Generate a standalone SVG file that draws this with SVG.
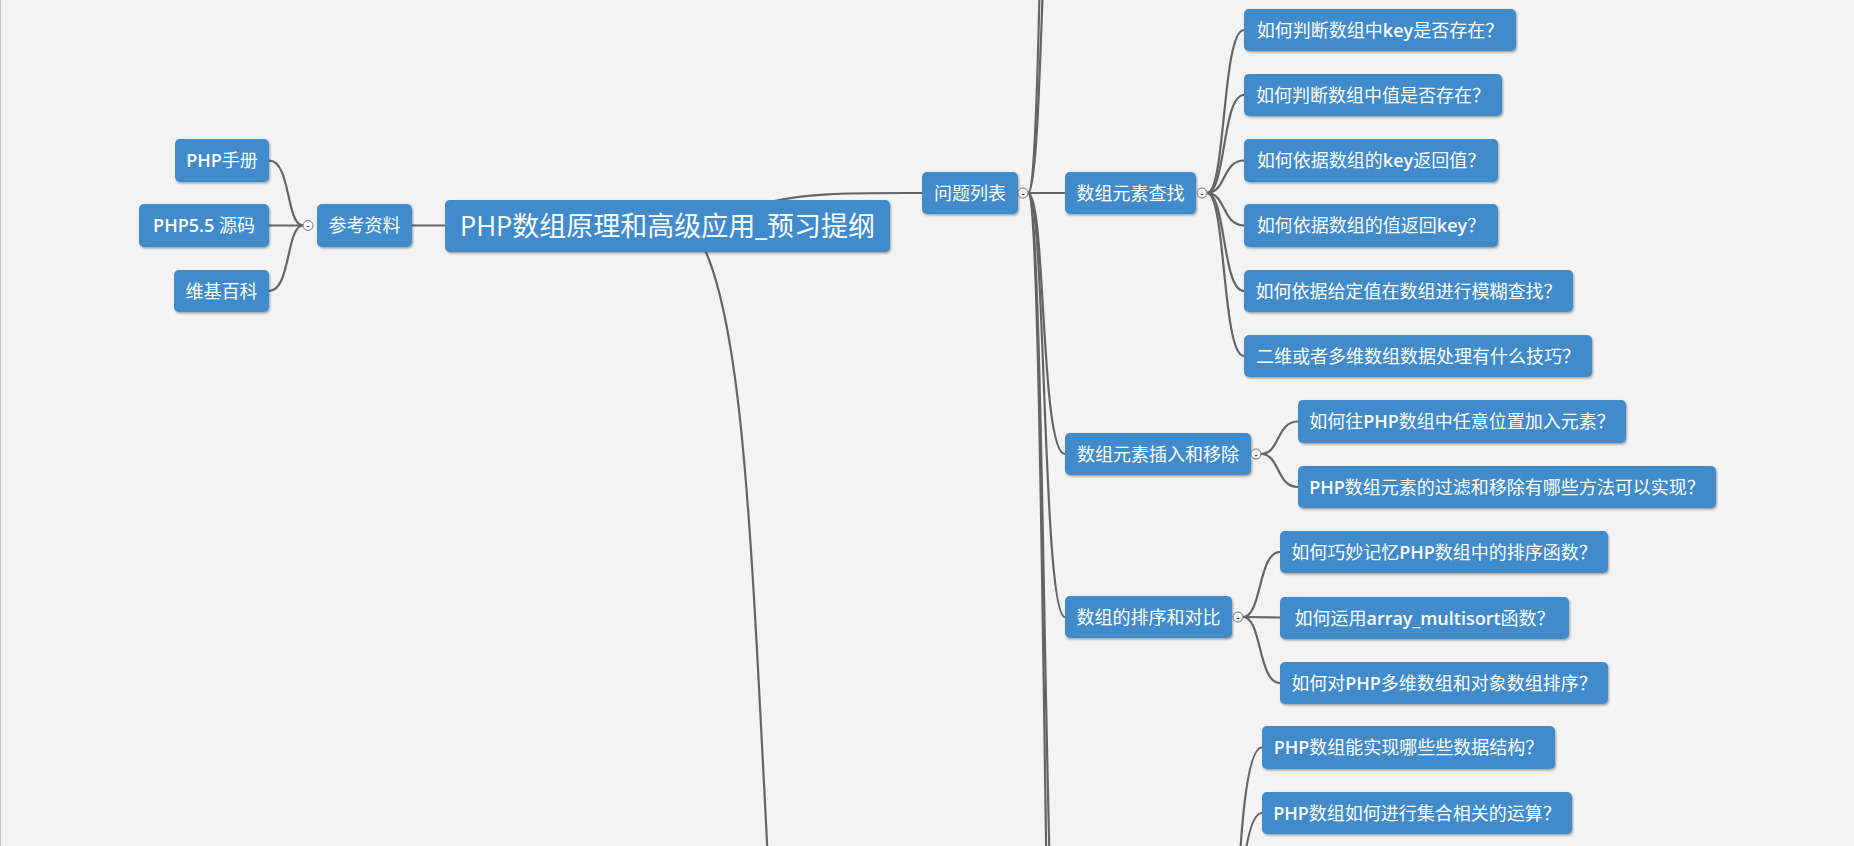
<svg xmlns="http://www.w3.org/2000/svg" width="1854" height="846" viewBox="0 0 1854 846">
<defs>
<filter id="sh" x="-5%" y="-20%" width="110%" height="150%">
<feDropShadow dx="1" dy="1.5" stdDeviation="0.8" flood-color="#000" flood-opacity="0.35"/>
</filter>
<style>
.box{fill:#428bca;filter:url(#sh)}
.t{fill:#fff;font-family:"Open Sans","Noto Sans CJK SC",sans-serif;font-size:18px;text-anchor:middle}
.rt{fill:#fff;font-family:"Open Sans","Noto Sans CJK SC",sans-serif;font-size:27px;text-anchor:middle}
.l{font-weight:600}
.c{fill:none;stroke:#646464;stroke-width:2.2}
.ex{fill:#f8f8f8;stroke:#777;stroke-width:1}
.mn{fill:#333;font-family:"DejaVu Sans",sans-serif;font-size:10px;text-anchor:middle}
</style>
</defs>
<rect width="1854" height="846" fill="#f3f3f3"/>
<line x1="0.5" y1="0" x2="0.5" y2="846" stroke="#c8c8c8" stroke-width="1"/>

<g id="connectors">
<path class="c" d="M412 225.5 L445 225.5"/>
<path class="c" d="M303 225.5 C286 225.5 291 160.5 269 160.5"/>
<path class="c" d="M303 225.5 L269 225.5"/>
<path class="c" d="M303 225.5 C286 225.5 291 291 269 291"/>
<path class="c" d="M760 205 C800 192 860 193 922 193"/>
<path class="c" d="M700 240 C745 320 752 560 770 900"/>
<path class="c" d="M1028 193 C1045 193 1042 -300 1065 -300"/>
<path class="c" d="M1028 193 C1046 193 1041 -700 1065 -700"/>
<path class="c" d="M1028 193 L1065 193"/>
<path class="c" d="M1028 193 C1046 193 1040 454 1065 454"/>
<path class="c" d="M1028 193 C1046 193 1042 617 1065 617"/>
<path class="c" d="M1028 193 C1046 193 1043 1100 1065 1100"/>
<path class="c" d="M1028 193 C1046 193 1044 1400 1065 1400"/>
<path class="c" d="M1207 193 C1226 193 1222 30 1244 30"/>
<path class="c" d="M1207 193 C1226 193 1222 95 1244 95"/>
<path class="c" d="M1207 193 C1226 193 1222 160.5 1244 160.5"/>
<path class="c" d="M1207 193 C1226 193 1222 225.5 1244 225.5"/>
<path class="c" d="M1207 193 C1226 193 1222 291 1244 291"/>
<path class="c" d="M1207 193 C1226 193 1222 356 1244 356"/>
<path class="c" d="M1261 454 C1280 454 1276 421.5 1298 421.5"/>
<path class="c" d="M1261 454 C1280 454 1276 487 1298 487"/>
<path class="c" d="M1243 617 C1262 617 1258 552 1280 552"/>
<path class="c" d="M1243 617 L1280 617.5"/>
<path class="c" d="M1243 617 C1262 617 1258 683 1280 683"/>
<path class="c" d="M1228 1100 C1238 1100 1230 747.5 1262 747.5"/>
<path class="c" d="M1228 1100 C1238 1100 1230 813 1262 813"/>
</g>

<g id="n-ref-1"><rect class="box" x="175" y="139" width="94" height="43" rx="5"/><text class="t" x="222" y="167"><tspan class="l">PHP</tspan>手册</text></g>
<g id="n-ref-2"><rect class="box" x="139" y="204" width="130" height="43" rx="5"/><text class="t" x="204" y="232"><tspan class="l">PHP5.5</tspan> 源码</text></g>
<g id="n-ref-3"><rect class="box" x="174" y="270" width="95" height="42" rx="5"/><text class="t" x="221.5" y="297.5">维基百科</text></g>
<g id="n-ref"><rect class="box" x="317" y="204" width="95" height="43" rx="5"/><text class="t" x="364.5" y="232">参考资料</text><circle class="ex" cx="308" cy="225.5" r="5"/><text class="mn" x="308" y="229">-</text></g>
<g id="n-root"><rect class="box" x="445" y="200" width="445" height="52" rx="5"/><text class="rt" x="667.5" y="236">PHP数组原理和高级应用_预习提纲</text></g>
<g id="n-q"><rect class="box" x="922" y="172" width="96" height="42" rx="5"/><text class="t" x="970" y="199.5">问题列表</text><circle class="ex" cx="1023" cy="193" r="5"/><text class="mn" x="1023" y="196.5">-</text></g>
<g id="n-find"><rect class="box" x="1065" y="172" width="131" height="42" rx="5"/><text class="t" x="1130.5" y="199.5">数组元素查找</text><circle class="ex" cx="1202" cy="193" r="5"/><text class="mn" x="1202" y="196.5">-</text></g>
<g id="n-ins"><rect class="box" x="1065" y="433" width="186" height="42" rx="5"/><text class="t" x="1158" y="460.5">数组元素插入和移除</text><circle class="ex" cx="1256" cy="454" r="5"/><text class="mn" x="1256" y="457.5">-</text></g>
<g id="n-sort"><rect class="box" x="1065" y="596" width="167" height="42" rx="5"/><text class="t" x="1148.5" y="623.5">数组的排序和对比</text><circle class="ex" cx="1238" cy="617" r="5"/><text class="mn" x="1238" y="620.5">-</text></g>

<g id="n-f1"><rect class="box" x="1244" y="9" width="272" height="42" rx="5"/><text class="t" x="1380" y="36.5">如何判断数组中<tspan class="l">key</tspan>是否存在？</text></g>
<g id="n-f2"><rect class="box" x="1244" y="74" width="258" height="42" rx="5"/><text class="t" x="1373" y="101.5">如何判断数组中值是否存在？</text></g>
<g id="n-f3"><rect class="box" x="1244" y="139" width="254" height="43" rx="5"/><text class="t" x="1371" y="167">如何依据数组的<tspan class="l">key</tspan>返回值？</text></g>
<g id="n-f4"><rect class="box" x="1244" y="204" width="254" height="43" rx="5"/><text class="t" x="1371" y="232">如何依据数组的值返回<tspan class="l">key</tspan>？</text></g>
<g id="n-f5"><rect class="box" x="1244" y="270" width="329" height="42" rx="5"/><text class="t" x="1408.5" y="297.5">如何依据给定值在数组进行模糊查找？</text></g>
<g id="n-f6"><rect class="box" x="1244" y="335" width="348" height="42" rx="5"/><text class="t" x="1418" y="362.5">二维或者多维数组数据处理有什么技巧？</text></g>

<g id="n-i1"><rect class="box" x="1298" y="400" width="328" height="43" rx="5"/><text class="t" x="1462" y="428">如何往<tspan class="l">PHP</tspan>数组中任意位置加入元素？</text></g>
<g id="n-i2"><rect class="box" x="1298" y="466" width="418" height="42" rx="5"/><text class="t" x="1507" y="493.5"><tspan class="l">PHP</tspan>数组元素的过滤和移除有哪些方法可以实现？</text></g>

<g id="n-s1"><rect class="box" x="1280" y="531" width="328" height="42" rx="5"/><text class="t" x="1444" y="558.5">如何巧妙记忆<tspan class="l">PHP</tspan>数组中的排序函数？</text></g>
<g id="n-s2"><rect class="box" x="1280" y="597" width="289" height="42" rx="5"/><text class="t" x="1424.5" y="624.5">如何运用<tspan class="l">array_multisort</tspan>函数？</text></g>
<g id="n-s3"><rect class="box" x="1280" y="662" width="328" height="42" rx="5"/><text class="t" x="1444" y="689.5">如何对<tspan class="l">PHP</tspan>多维数组和对象数组排序？</text></g>

<g id="n-d1"><rect class="box" x="1262" y="726" width="293" height="43" rx="5"/><text class="t" x="1408.5" y="754"><tspan class="l">PHP</tspan>数组能实现哪些些数据结构？</text></g>
<g id="n-d2"><rect class="box" x="1262" y="792" width="310" height="42" rx="5"/><text class="t" x="1417" y="819.5"><tspan class="l">PHP</tspan>数组如何进行集合相关的运算？</text></g>
</svg>
